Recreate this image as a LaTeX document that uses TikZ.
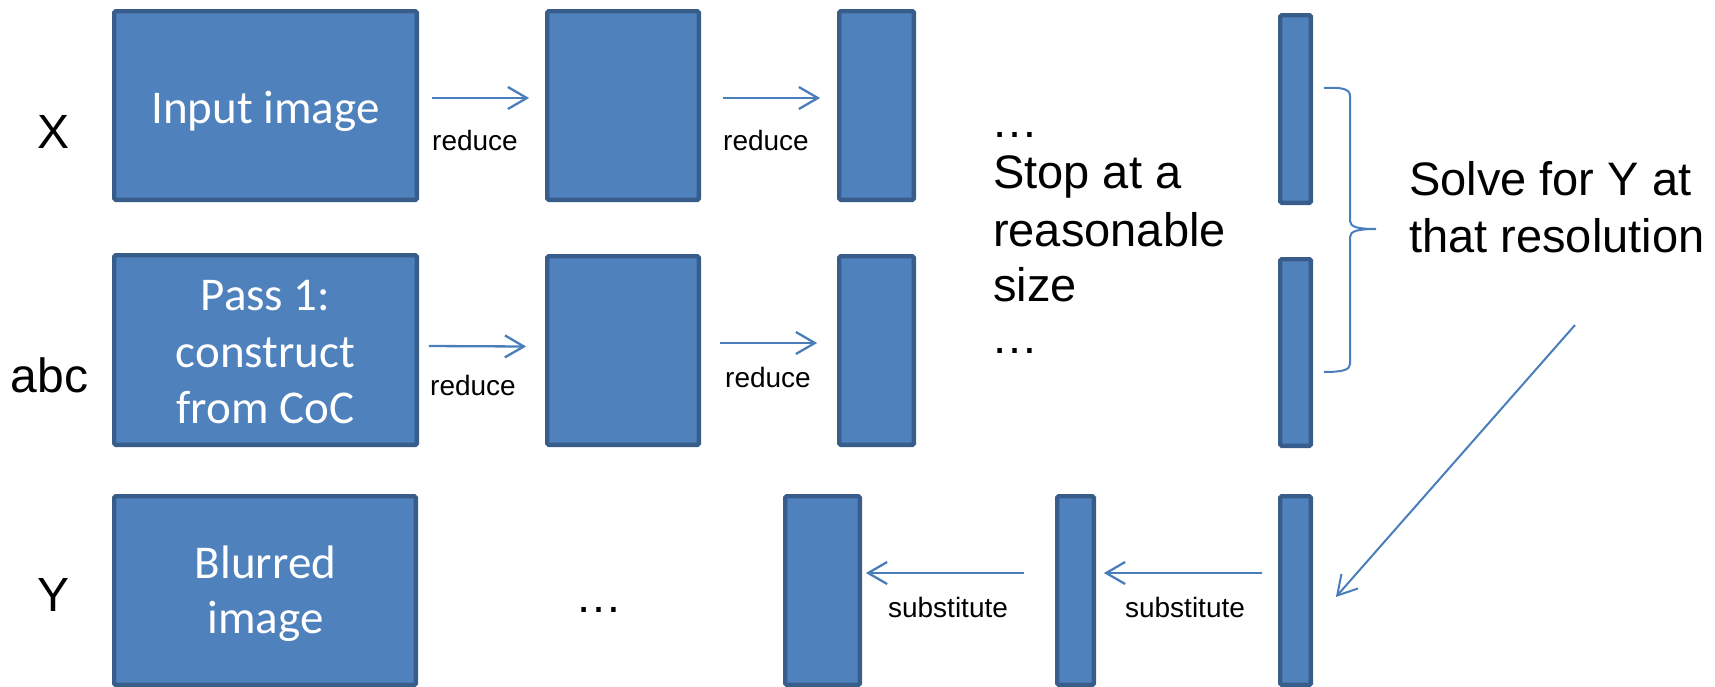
\documentclass[tikz,border=0pt]{standalone}
\usepackage{fontspec}
\setmainfont{Liberation Sans}
\newfontfamily\boxfont{Carlito}
\usetikzlibrary{arrows.meta}
\definecolor{boxfill}{HTML}{4F81BD}
\definecolor{boxline}{HTML}{385D8A}
\definecolor{arrowblue}{HTML}{4A7EBB}
\begin{document}
\begin{tikzpicture}[x=1pt,y=-1pt,
  stage/.style={draw=boxline, fill=boxfill, line width=4.3pt, rounded corners=1.5pt,
                inner sep=0pt, outer sep=0pt},
  inbox/.style={text=white, font=\boxfont\fontsize{47}{56}\selectfont, inner sep=0pt, anchor=base},
  rowlabel/.style={font=\fontsize{48}{56}\selectfont, inner sep=0pt},
  note/.style={font=\fontsize{47}{56}\selectfont, inner sep=0pt, anchor=base west},
  small/.style={font=\fontsize{28}{32}\selectfont, inner sep=0pt, anchor=base},
  flow/.style={draw=arrowblue, line width=2.3pt, -{Straight Barb[length=19pt,width=22pt]}},
]
\useasboundingbox (0,0) rectangle (1715,686);
\clip (0,0) rectangle (1715,686);

% row X: reduction chain
\node[stage, minimum width=302.7pt, minimum height=188.7pt] (b1) at (265.5,105.5) {};
\node[stage, minimum width=151.7pt, minimum height=188.7pt] (b2) at (623,105.5) {};
\node[stage, minimum width=74.7pt,  minimum height=188.7pt] (b3) at (876.5,105.5) {};
\node[stage, minimum width=30.7pt,  minimum height=187.7pt] (b4) at (1295.5,109) {};

% row abc: reduction chain
\node[stage, minimum width=302.7pt, minimum height=189.7pt] (c1) at (265.5,350) {};
\node[stage, minimum width=151.7pt, minimum height=188.7pt] (c2) at (623,350.5) {};
\node[stage, minimum width=74.7pt,  minimum height=188.7pt] (c3) at (876.5,350.5) {};
\node[stage, minimum width=30.7pt,  minimum height=186.7pt] (c4) at (1295.5,352.5) {};

% row Y: substitution chain
\node[stage, minimum width=301.7pt, minimum height=188.7pt] (d1) at (265,590.5) {};
\node[stage, minimum width=74.7pt,  minimum height=188.7pt] (d2) at (822.5,590.5) {};
\node[stage, minimum width=36.7pt,  minimum height=188.7pt] (d3) at (1075.5,590.5) {};
\node[stage, minimum width=30.7pt,  minimum height=188.7pt] (d4) at (1295.5,590.5) {};

% texts inside the large boxes
\node[inbox] (b1t) at (265.5,123) {Input image};
\node[inbox] (c1ta) at (265.5,310) {Pass 1:};
\node[inbox] (c1tb) at (265.5,367) {construct};
\node[inbox] (c1tc) at (265.5,423) {from CoC};
\node[inbox] (d1ta) at (265.5,578) {Blurred};
\node[inbox] (d1tb) at (265.5,633) {image};

% row labels
\node[rowlabel] (lx) at (54,132) {X};
\node[rowlabel, anchor=base] (labc) at (49.5,392) {abc};
\node[rowlabel] (ly) at (54,594.5) {Y};

% reduce arrows
\draw[flow] ([xshift=15pt,yshift=7.5pt]b1.east) -- ([xshift=-18pt,yshift=7.5pt]b2.west);
\draw[flow] ([xshift=24pt,yshift=7.5pt]b2.east) -- ([xshift=-19pt,yshift=7.5pt]b3.west);
\draw[flow] ([xshift=12pt,yshift=4pt]c1.east) -- ([xshift=-21pt,yshift=4pt]c2.west);
\draw[flow] ([xshift=21pt,yshift=7.5pt]c2.east) -- ([xshift=-22pt,yshift=7.5pt]c3.west);
\node[small] (r1) at (475,150) {reduce};
\node[small] (r2) at (766,150) {reduce};
\node[small] (r3) at (473,395) {reduce};
\node[small] (r4) at (768,387) {reduce};

% substitute arrows
\draw[flow] ([xshift=-33pt,yshift=17.5pt]d3.west) -- ([xshift=6pt,yshift=17.5pt]d2.east);
\draw[flow] ([xshift=-18pt,yshift=17.5pt]d4.west) -- ([xshift=10pt,yshift=17.5pt]d3.east);
\node[small] (s1) at (948,617) {substitute};
\node[small] (s2) at (1185,617) {substitute};

% ellipses and notes
\node[note] (t1) at (991,137) {…};
\node[note] (t2) at (993,188) {Stop at a};
\node[note] (t3) at (993,246) {reasonable};
\node[note] (t4) at (993,301) {size};
\node[note] (t5) at (991,353) {…};
\node[note, anchor=base] (dots) at (599,612) {…};
\node[note] (solve1) at (1409,195) {Solve for Y at};
\node[note] (solve2) at (1409,252) {that resolution};

% brace grouping the two smallest images
\draw[arrowblue, line width=2pt]
  (1324,88) .. controls (1342,87) and (1350,89) .. (1350,96)
  -- (1350,221) .. controls (1350,227) and (1358,229) .. (1376,229)
  .. controls (1358,229) and (1350,231) .. (1350,237)
  -- (1350,364) .. controls (1350,370) and (1342,372) .. (1324,372);

% solve arrow
\coordinate (solvestart) at (1575,325);
\draw[flow, line width=2pt] (solvestart) -- ([xshift=25pt,yshift=-6.5pt]d4.east);
\end{tikzpicture}
\end{document}
